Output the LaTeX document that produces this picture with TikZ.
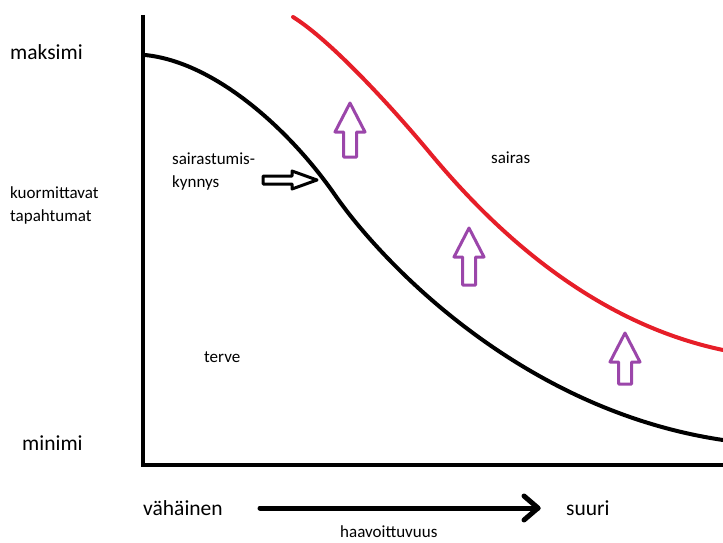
\documentclass[tikz,border=0pt]{standalone}
\usepackage{fontspec}
\setmainfont{Carlito}
\usetikzlibrary{arrows.meta,calc}
\definecolor{curvered}{RGB}{230,30,40}
\definecolor{purp}{RGB}{155,70,170}
\begin{document}
\begin{tikzpicture}[x=1pt,y=-1pt,
  big/.style={font=\fontsize{21.5}{24}\selectfont, inner sep=0pt, anchor=west},
  small/.style={font=\fontsize{17}{23}\selectfont, inner sep=0pt, anchor=west, align=left},
  uparrow/.style={draw=purp, line width=3pt, line join=round},
  axis/.style={line width=4pt, black}]
\useasboundingbox (0,0) rectangle (723,543);
% axes
\coordinate (top) at (143,15);
\coordinate (origin) at (143,465);
\coordinate (xend) at (723,465);
\draw[axis, line join=miter] (top) -- (origin) -- (xend);
% black curve (threshold)
\draw[line width=4pt, line cap=round] (145,55) .. controls (215,62) and (290,130) .. (335,195) .. controls (380,260) and (520,410) .. (723,440);
% red curve
\draw[line width=4pt, curvered, line cap=round] (293,17) .. controls (330,40) and (390,105) .. (430,153) .. controls (480,213) and (580,320) .. (723,350);
% purple arrows
\foreach \cx/\ty/\by in {350/103/157, 469/228/285, 625/333/384} {
  \draw[uparrow] (\cx-6.5,\by) -- (\cx-6.5,\ty+29) -- (\cx-15,\ty+29) -- (\cx,\ty) -- (\cx+15,\ty+29) -- (\cx+6.5,\ty+29) -- (\cx+6.5,\by) -- cycle;
}
% black right arrow
\draw[line width=3pt, line join=round] (263,176) -- (292,176) -- (292,171) -- (317,180) -- (292,189) -- (292,184) -- (263,184) -- cycle;
% labels
\node[big] (maks) at (10,52) {maksimi};
\node[big] (mini) at (22,443) {minimi};
\node[small] (kuorm) at (10,205) {kuormittavat\\tapahtumat};
\node[small] (kynnys) at (172,172) {sairastumis-\\kynnys};
\node[small] (sairas) at (491,158) {sairas};
\node[small] (terve) at (204,357) {terve};
\node[big] (vah) at (143,508) {vähäinen};
\node[big] (suuri) at (566,508) {suuri};
\node[small] (haav) at (340,532) {haavoittuvuus};
\coordinate (a1) at (260,508);
\coordinate (a2) at (538,508);
\draw[line width=5pt, line cap=round] (a1) -- (a2);
\draw[line width=5pt, line cap=round, line join=round] ($(a2)+(-14,-12)$) -- (a2) -- ($(a2)+(-14,12)$);
\end{tikzpicture}
\end{document}
